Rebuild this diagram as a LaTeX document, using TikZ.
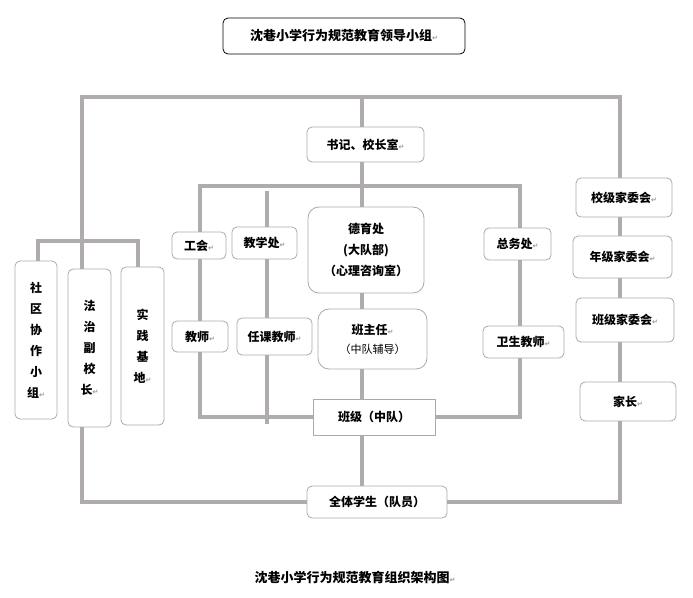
\documentclass[tikz,border=0pt]{standalone}
\usepackage{fontspec}
\newfontfamily\cjk{Noto Sans CJK SC}
\newfontfamily\symfont{DejaVu Sans}
\definecolor{linegray}{RGB}{176,172,172}
\definecolor{boxgray}{RGB}{170,170,170}
\definecolor{markgray}{RGB}{150,150,150}
\newcommand{\retmk}{{\symfont\fontsize{7}{7}\selectfont\color{markgray}↵}}

\begin{document}
\begin{tikzpicture}[x=1pt,y=-1pt,
    box/.style={draw=boxgray,line width=0.8pt,rounded corners=5pt,fill=white,
        inner sep=0pt,align=center,font=\cjk\bfseries\fontsize{12}{21}\selectfont},
    link/.style={draw=linegray,line width=4pt}]
\useasboundingbox (0,0) rectangle (693,597);

% title
\node[box,draw=black,minimum width=242pt,minimum height=36pt,
    font=\cjk\bfseries\fontsize{13}{15}\selectfont] (title) at (344,36)
    {沈巷小学行为规范教育领导小组\retmk};

% middle column
\node[box,minimum width=117pt,minimum height=35pt] (shuji) at (365.5,144.5) {书记、校长室\retmk};
\node[box,rounded corners=11pt,minimum width=116pt,minimum height=86pt] (deyu) at (366,250)
    {德育处\\(大队部)\\（心理咨询室）};
\node[box,rounded corners=11pt,minimum width=109pt,minimum height=60pt] (banzhu) at (372.5,339)
    {班主任\retmk\\[-2pt]{\mdseries\fontsize{11}{13}\selectfont（中队辅导）}};
\node[box,rounded corners=0pt,minimum width=122pt,minimum height=36pt] (banji) at (374,417) {班级（中队）};
\node[box,minimum width=140pt,minimum height=32pt] (quanti) at (377,502) {全体学生（队员）};

% inner left and right
\node[box,minimum width=54pt,minimum height=27pt] (gonghui) at (199,245.5) {工会\retmk};
\node[box,minimum width=65pt,minimum height=32pt] (jiaoxue) at (264.5,243) {教学处\retmk};
\node[box,minimum width=56pt,minimum height=31pt] (jiaoshi) at (200,336.5) {教师\retmk};
\node[box,minimum width=75pt,minimum height=37pt] (renke) at (274.5,336.5) {任课教师\retmk};
\node[box,minimum width=67pt,minimum height=32pt] (zongwu) at (517.5,244) {总务处\retmk};
\node[box,minimum width=81pt,minimum height=32pt] (weisheng) at (523.5,342) {卫生教师\retmk};

% parents
\node[box,minimum width=96pt,minimum height=39pt] (xiaoji) at (624,197.5) {校级家委会\retmk};
\node[box,minimum width=99pt,minimum height=42pt] (nianji) at (622.5,257) {年级家委会\retmk};
\node[box,minimum width=98pt,minimum height=44pt] (banjijia) at (625,320) {班级家委会\retmk};
\node[box,minimum width=96pt,minimum height=39pt] (jiazhang) at (628,401.5) {家长\retmk};

% society
\node[box,minimum width=42pt,minimum height=158pt] (shequ) at (36,340)
    {社\\区\\协\\作\\小\\组\retmk};
\node[box,minimum width=43pt,minimum height=158pt] (fazhi) at (89.5,348)
    {法\\治\\副\\校\\长\retmk};
\node[box,minimum width=43pt,minimum height=158pt] (shijian) at (142.5,346)
    {实\\践\\基\\地\retmk};

% caption
\node[font=\cjk\bfseries\fontsize{13}{15}\selectfont] (caption) at (355,577)
    {沈巷小学行为规范教育组织架构图\retmk};

% corner points of the frames
\coordinate (topleft) at (82,97);
\coordinate (topright) at (620,97);
\coordinate (topmid) at (362,97);
\coordinate (inleft) at (200,186);
\coordinate (inright) at (520,186);
\coordinate (brleft) at (38,241);
\coordinate (brright) at (138,241);
\coordinate (teach) at (267,191);
\coordinate (teachend) at (267,424);

% outer frame
\draw[link] (fazhi.north -| topleft) |- (topright) -- (xiaoji.north -| topright);
\draw[link] (fazhi.south -| topleft) |- (quanti.west);
\draw[link] (jiazhang.south -| topright) |- (quanti.east);
\draw[link] (shequ.north -| brleft) |- (brright) -- (shijian.north -| brright);

% parents chain
\draw[link] (xiaoji.south -| topright) -- (nianji.north -| topright);
\draw[link] (nianji.south -| topright) -- (banjijia.north -| topright);
\draw[link] (banjijia.south -| topright) -- (jiazhang.north -| topright);

% middle line
\draw[link] (topmid) -- (shuji.north -| topmid);
\draw[link] (shuji.south -| topmid) -- (deyu.north -| topmid);
\draw[link] (deyu.south -| topmid) -- (banzhu.north -| topmid);
\draw[link] (banzhu.south -| topmid) -- (banji.north -| topmid);
\draw[link] (banji.south -| topmid) -- (quanti.north -| topmid);

% inner frame
\draw[link] (gonghui.north -| inleft) |- (inright) -- (zongwu.north -| inright);
\draw[link] (gonghui.south -| inleft) -- (jiaoshi.north -| inleft);
\draw[link] (jiaoshi.south -| inleft) |- (banji.west);
\draw[link] (zongwu.south -| inright) -- (weisheng.north -| inright);
\draw[link] (weisheng.south -| inright) |- (banji.east);

% teaching line
\draw[link] (teach) -- (jiaoxue.north -| teach);
\draw[link] (jiaoxue.south -| teach) -- (renke.north -| teach);
\draw[link] (renke.south -| teach) -- (teachend);

\end{tikzpicture}
\end{document}
